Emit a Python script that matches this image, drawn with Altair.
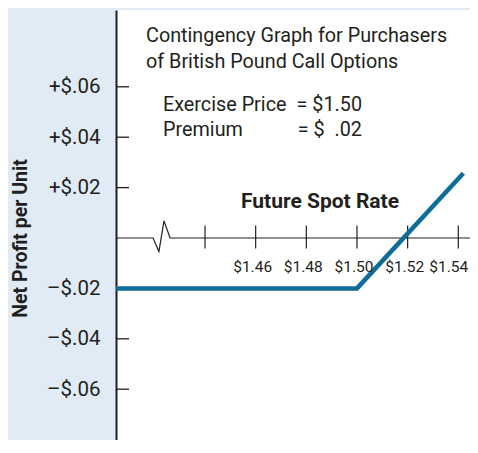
import altair as alt
import pandas as pd

# ---- data ----
spot = [1.4049, 1.50, 1.542]          # future spot rate
profit = [-0.02, -0.02, 0.0257]       # net profit per unit

x_tick_values = [1.44, 1.46, 1.48, 1.50, 1.52, 1.54]
x_label_values = [1.46, 1.48, 1.50, 1.52, 1.54]
x_labels = ["$1.46", "$1.48", "$1.50", "$1.52", "$1.54"]

y_tick_values = [0.06, 0.04, 0.02, -0.02, -0.04, -0.06]
y_tick_labels = ["+$.06", "+$.04", "+$.02", "\u2013$.02", "\u2013$.04", "\u2013$.06"]

# horizontal axis with break symbol
axis_x = [1.4049, 1.4195, 1.4218, 1.4238, 1.4262, 1.5446]
axis_y = [0.0, 0.0, -0.0054, 0.0068, 0.0, 0.0]

title_lines = ["Contingency Graph for Purchasers", "of British Pound Call Options"]
param_names = ["Exercise Price", "Premium"]
param_values = ["= $1.50", "= $\u00a0\u00a0.02"]

X_DOMAIN = [1.40486, 1.54462]
Y_DOMAIN = [-0.080159, 0.090476]

FONT = "Roboto"
TXT = "#231f20"
BLUE = "#0f6e97"

label_expr = "".join(
    f"abs(datum.value - ({v})) < 1e-6 ? '{l}' : " for v, l in zip(y_tick_values, y_tick_labels)
) + "''"

def xenc(field="x"):
    return alt.X(f"{field}:Q", scale=alt.Scale(domain=X_DOMAIN, nice=False, zero=False), axis=None)

def yenc(field="y"):
    return alt.Y(
        f"{field}:Q",
        scale=alt.Scale(domain=Y_DOMAIN, nice=False, zero=False),
        axis=alt.Axis(
            values=y_tick_values, labelExpr=label_expr, ticks=False, grid=False,
            domain=True, domainColor=TXT, domainWidth=2,
            labelFont=FONT, labelFontSize=20.5, labelColor=TXT, labelPadding=16,
            title="Net Profit per Unit", titleFont=FONT, titleFontSize=19.5,
            titleFontWeight="bold", titleColor=TXT, titleAngle=270,
            titleX=-96, titleY=228, titleAlign="center", titleBaseline="middle",
        ),
    )

axis_df = pd.DataFrame({"x": axis_x, "y": axis_y, "o": range(len(axis_x))})
axis_line = alt.Chart(axis_df).mark_line(color=TXT, strokeWidth=1.2).encode(
    x=xenc(), y=yenc(), order="o:O"
)

xt_df = pd.DataFrame({"x": x_tick_values, "y": [0.0050] * len(x_tick_values), "y2": [-0.0042] * len(x_tick_values)})
x_ticks = alt.Chart(xt_df).mark_rule(color=TXT, strokeWidth=1.2).encode(
    x=xenc(), y=yenc(), y2="y2:Q"
)

xl_df = pd.DataFrame({"x": x_label_values, "t": x_labels})
x_lab = alt.Chart(xl_df.iloc[:-1]).mark_text(
    font=FONT, fontSize=15.5, color=TXT, align="center", baseline="alphabetic", dx=-3
).encode(x=xenc(), y=alt.value(262), text="t:N")
# last label right-aligned so it stays inside the page edge
x_lab_last = alt.Chart(xl_df.iloc[-1:]).mark_text(
    font=FONT, fontSize=15.5, color=TXT, align="right", baseline="alphabetic", dx=10
).encode(x=xenc(), y=alt.value(262), text="t:N")

yt_df = pd.DataFrame({"y": y_tick_values})
y_ticks = alt.Chart(yt_df).mark_rule(color=TXT, strokeWidth=1.3).encode(
    y=yenc(), x=alt.value(0), x2=alt.value(13)
)

line_df = pd.DataFrame({"x": spot, "y": profit, "o": range(len(spot))})
payoff = alt.Chart(line_df).mark_line(color=BLUE, strokeWidth=4.5, clip=True, strokeCap="butt").encode(
    x=xenc(), y=yenc(), order="o:O"
)

one = pd.DataFrame({"a": [0]})

def txt(s, x, y, size=19.8, weight="normal", align="left"):
    return alt.Chart(one).mark_text(
        font=FONT, fontSize=size, fontWeight=weight, color=TXT, align=align, baseline="alphabetic"
    ).encode(x=alt.value(x), y=alt.value(y), text=alt.value(s))

texts = [
    txt(title_lines[0], 30, 32),
    txt(title_lines[1], 30, 58),
    txt(param_names[0], 47, 101),
    txt(param_names[1], 47, 126),
    txt(param_values[0], 246, 101, align="right"),
    txt(param_values[1], 246, 126, align="right"),
    txt("Future Spot Rate", 125, 198, size=21, weight="bold"),
]

chart = alt.layer(axis_line, x_ticks, y_ticks, payoff, x_lab, x_lab_last, *texts).properties(
    width=354, height=430,
    autosize=alt.AutoSizeParams(type="none"),
    padding={"left": 108, "top": 2, "right": 0, "bottom": 0},
    background="#e1ebf5",
).configure_view(fill="white", stroke=None)

chart.save("out.html", embed_options={"renderer": "svg", "actions": False})
